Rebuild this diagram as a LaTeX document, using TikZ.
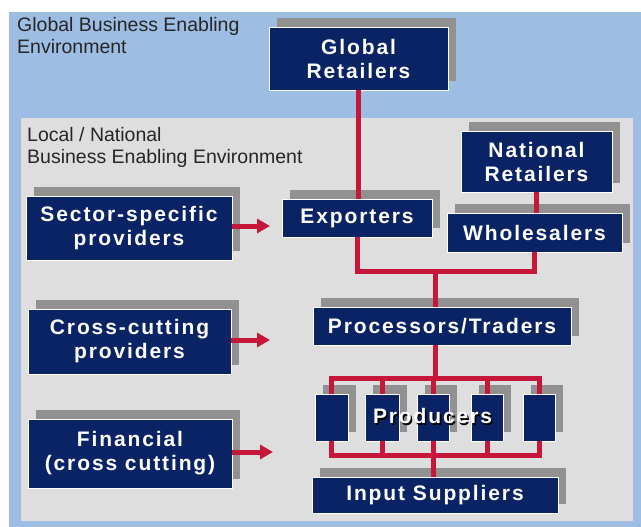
\documentclass[tikz,border=0pt]{standalone}
\usepackage{fontspec}
\setmainfont{Liberation Sans}
\newfontfamily\boxfont[LetterSpace=9]{Liberation Sans}
\usetikzlibrary{arrows.meta,shadows}

\definecolor{bgblue}{RGB}{157,189,226}
\definecolor{bggray}{RGB}{222,222,222}
\definecolor{navy}{RGB}{10,35,100}
\definecolor{linered}{RGB}{198,22,58}
\definecolor{shadowgray}{RGB}{145,145,145}

\tikzset{
  navybox/.style={draw=white, line width=0.8pt, fill=navy, text=white,
    font=\boxfont\bfseries\fontsize{21}{24}\selectfont, align=center, inner sep=0pt,
    general shadow={fill=shadowgray, shadow xshift=8pt, shadow yshift=9pt}},
  link/.style={draw=linered, line width=5pt},
  pointer/.style={link, -{Triangle[width=14pt,length=13pt]}},
  envlabel/.style={anchor=north west, inner sep=0pt, align=left,
    font=\fontsize{19.5}{22}\selectfont, text=black!85},
  prodlabel/.style={font=\boxfont\bfseries\fontsize{21}{24}\selectfont, inner sep=0pt}
}

\begin{document}
\begin{tikzpicture}[x=1pt,y=-1pt]
\useasboundingbox (0,0) rectangle (641,527);
\fill[bgblue] (9,12) rectangle (641,527);
\fill[bggray] (21,118) rectangle (633,521);

\node[envlabel] (globenv) at (17,17.5) {Global Business Enabling\\Environment};
\node[envlabel] (locenv) at (27,127) {Local / National\\Business Enabling Environment};

\node[navybox, minimum width=179pt, minimum height=63pt] (glob) at (358.5,58.5) {Global\\Retailers};
\node[navybox, minimum width=150pt, minimum height=38pt] (exp) at (357,218) {Exporters};
\node[navybox, minimum width=151pt, minimum height=61pt] (nat) at (536.5,161.5) {National\\Retailers};
\node[navybox, minimum width=175pt, minimum height=39pt] (whole) at (534.5,232.5) {Wholesalers};
\node[navybox, minimum width=206pt, minimum height=64pt] (sect) at (129,228) {Sector-specific\\providers};
\node[navybox, minimum width=203pt, minimum height=65pt] (cross) at (129.5,341.5) {Cross-cutting\\providers};
\node[navybox, minimum width=204pt, minimum height=69pt] (fin) at (130,453.5) {Financial\\(cross cutting)};
\node[navybox, minimum width=258pt, minimum height=38pt] (proc) at (442,326) {Processors/Traders};
\node[navybox, minimum width=33pt, minimum height=47pt] (p1) at (331.5,417.5) {};
\node[navybox, minimum width=34pt, minimum height=47pt] (p2) at (382,417.5) {};
\node[navybox, minimum width=32pt, minimum height=47pt] (p3) at (433,417.5) {};
\node[navybox, minimum width=32pt, minimum height=47pt] (p4) at (487,417.5) {};
\node[navybox, minimum width=32pt, minimum height=47pt] (p5) at (539,417.5) {};
\node[navybox, minimum width=246pt, minimum height=36pt] (inp) at (435,495) {Input Suppliers};

\coordinate (j) at (435,271);
\coordinate (tb) at (435,378);
\coordinate (bb) at (433,455);
\coordinate (a1) at (270,226);
\coordinate (a2) at (270,340);
\coordinate (a3) at (273,452);

\draw[link] (glob.south) -- (glob.south |- exp.north);
\draw[link] (nat.south) -- (nat.south |- whole.north);
\draw[link] (exp.south) |- (j) -| (whole.south);
\draw[link] (j) -- (j |- proc.north);
\draw[link] (tb |- proc.south) -- (tb);
\draw[link] (p1.north) -- (p1.north |- tb) -- (p5.north |- tb) -- (p5.north);
\draw[link] (p2.north) -- (p2.north |- tb);
\draw[link] (p3.north) -- (p3.north |- tb);
\draw[link] (p4.north) -- (p4.north |- tb);
\draw[link] (p1.south) -- (p1.south |- bb) -- (p5.south |- bb) -- (p5.south);
\draw[link] (p2.south) -- (p2.south |- bb);
\draw[link] (p3.south) -- (p3.south |- bb);
\draw[link] (p4.south) -- (p4.south |- bb);
\draw[link] (bb) -- (bb |- inp.north);

\draw[pointer] (sect.east |- a1) -- (a1);
\draw[pointer] (cross.east |- a2) -- (a2);
\draw[pointer] (fin.east |- a3) -- (a3);

\node[prodlabel, text=black] (prodsh) at (434,417.5) {Producers};
\node[prodlabel, text=white] (prod) at (432.5,416) {Producers};
\end{tikzpicture}
\end{document}
